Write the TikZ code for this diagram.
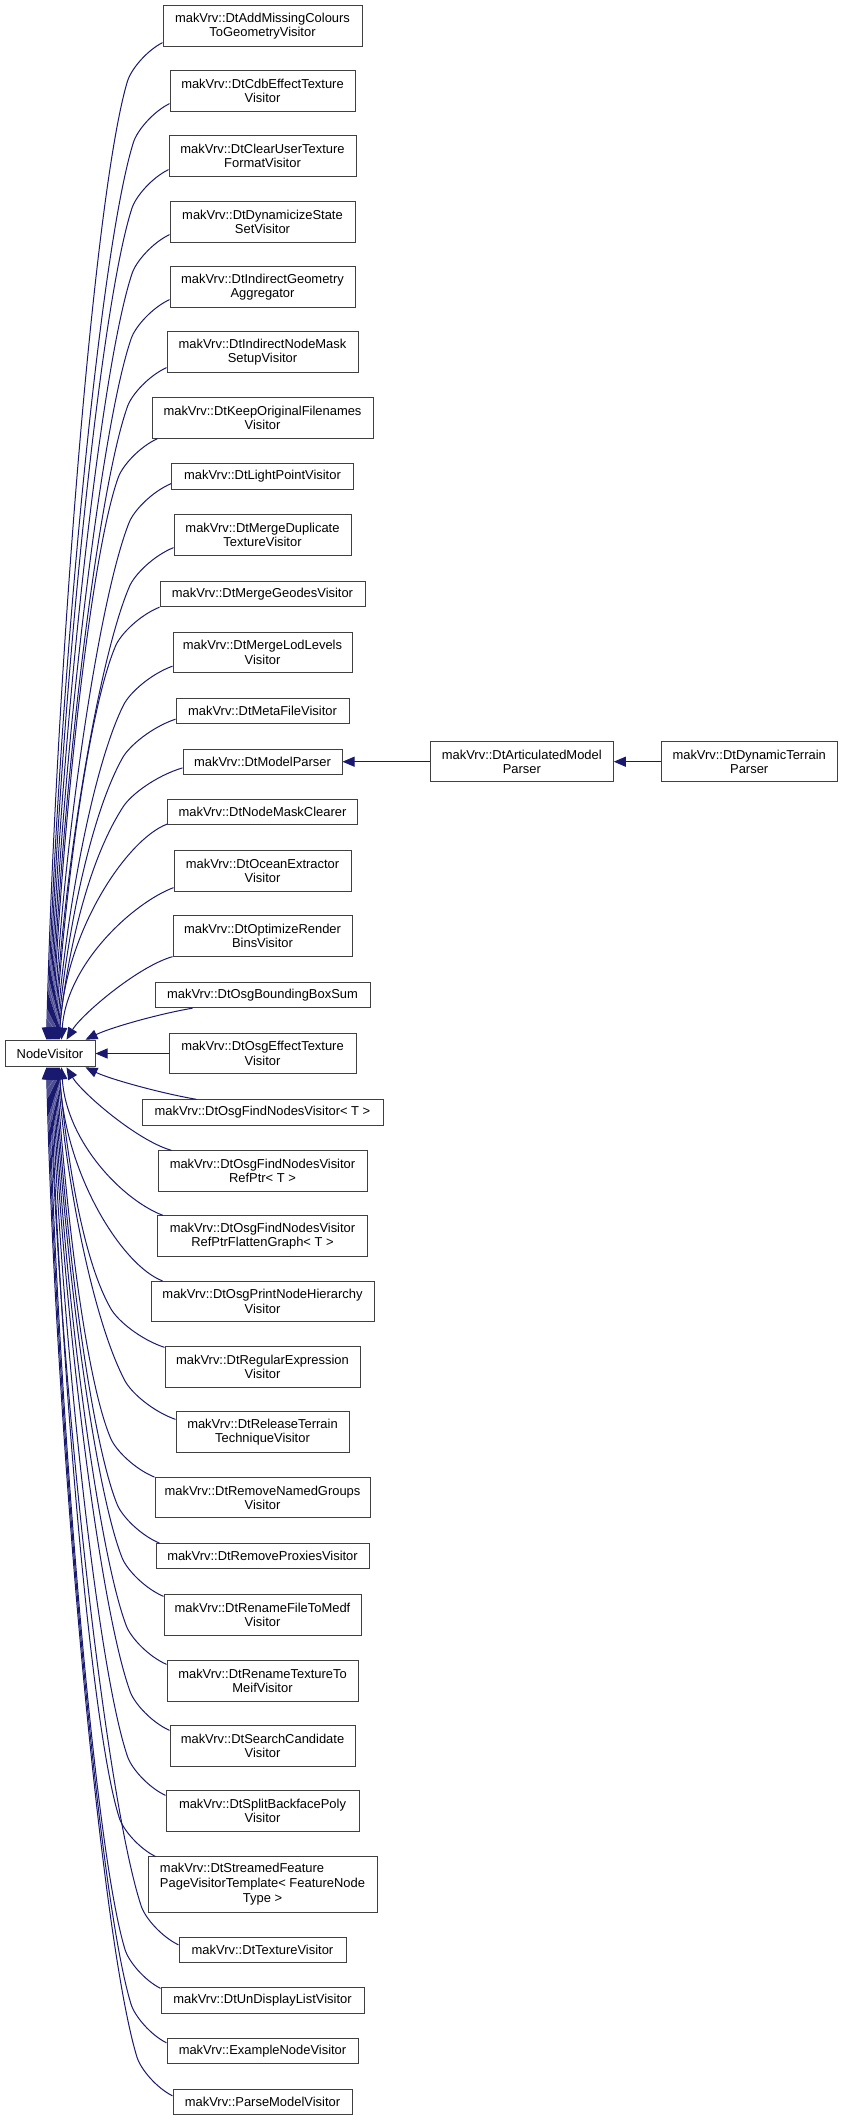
\documentclass[tikz,border=0pt]{standalone}
\usepackage{fontspec}
\setmainfont{Liberation Sans}
\usetikzlibrary{arrows.meta,calc}
\definecolor{edgec}{HTML}{191970}
\definecolor{boxc}{HTML}{404040}
\tikzset{
  cls/.style={draw=boxc, line width=0.75pt, fill=white, inner sep=0pt, align=center,
    font=\fontsize{9.7pt}{11pt}\selectfont, text=black},
  one/.style={minimum height=19pt},
  two/.style={minimum height=30.2pt},
  three/.style={minimum height=41.3pt},
  bw/.style={minimum width={#1*0.75pt}},
  edge/.style={draw=edgec, line width=0.75pt, -{Triangle[length=9pt,width=7.5pt]}},
}
\newcommand\farup[3]{%
\draw[edge] let \p1=($(#1.south west)+(#2)$), \p2=($(nv.north west)+(#3,0)$),
 \n1={(\x1-\x2)/(\y1-\y2)}, \n2={-(26.8+71*\n1)*0.75}, \n3={0.18+1.035*\n1},
 \p3=($(\p1)+({\n2*1pt},-29pt)$), \n4={\y3-\y2}, \n5={(0.08+0.35*\n1)*\n4}
 in (\p1) .. controls +({0.45*\n2*1pt},-6pt) and +({9*\n3*1pt},9pt) .. (\p3)
 .. controls +({-\n3*\n5*1pt},{-\n5*1pt}) and +(6pt,{0.35*\n4*1pt}) .. (\p2);}
\newcommand\fardown[3]{%
\draw[edge] let \p1=($(#1.north west)+(#2)$), \p2=($(nv.south west)+(#3,0)$),
 \n1={(\x1-\x2)/(\y2-\y1)}, \n2={-(26.8+71*\n1)*0.75}, \n3={0.18+1.035*\n1},
 \p3=($(\p1)+({\n2*1pt},29pt)$), \n4={\y2-\y3}, \n5={(0.08+0.35*\n1)*\n4}
 in (\p1) .. controls +({0.45*\n2*1pt},6pt) and +({9*\n3*1pt},-9pt) .. (\p3)
 .. controls +({-\n3*\n5*1pt},{\n5*1pt}) and +(6pt,{-0.35*\n4*1pt}) .. (\p2);}
\begin{document}
\begin{tikzpicture}[x=0.75pt,y=-0.75pt]
\useasboundingbox (0,0) rectangle (843,2121);
\node[cls,minimum width=67.5pt,minimum height=20pt] (nv) at (50,1053.5) {NodeVisitor};
\node[cls,two,bw=199] (c1) at (262.5,26) {makVrv::DtAddMissingColours\\ToGeometryVisitor};
\node[cls,two,bw=185] (c2) at (262.5,91) {makVrv::DtCdbEffectTexture\\Visitor};
\node[cls,two,bw=187] (c3) at (262.5,156) {makVrv::DtClearUserTexture\\FormatVisitor};
\node[cls,two,bw=185] (c4) at (262.5,222) {makVrv::DtDynamicizeState\\SetVisitor};
\node[cls,two,bw=185] (c5) at (262.5,287) {makVrv::DtIndirectGeometry\\Aggregator};
\node[cls,two,bw=191] (c6) at (262.5,352) {makVrv::DtIndirectNodeMask\\SetupVisitor};
\node[cls,two,bw=221] (c7) at (262.5,418) {makVrv::DtKeepOriginalFilenames\\Visitor};
\node[cls,one,bw=182] (c8) at (262.5,476.5) {makVrv::DtLightPointVisitor};
\node[cls,two,bw=177] (c9) at (262.5,535) {makVrv::DtMergeDuplicate\\TextureVisitor};
\node[cls,one,bw=205] (c10) at (262.5,594) {makVrv::DtMergeGeodesVisitor};
\node[cls,two,bw=179] (c11) at (262.5,652.5) {makVrv::DtMergeLodLevels\\Visitor};
\node[cls,one,bw=173] (c12) at (262.5,711) {makVrv::DtMetaFileVisitor};
\node[cls,one,bw=159] (c13) at (262.5,761.7) {makVrv::DtModelParser};
\node[cls,one,bw=190] (c14) at (262.5,812) {makVrv::DtNodeMaskClearer};
\node[cls,two,bw=177] (c15) at (262.5,871) {makVrv::DtOceanExtractor\\Visitor};
\node[cls,two,bw=179] (c16) at (262.5,936) {makVrv::DtOptimizeRender\\BinsVisitor};
\node[cls,one,bw=215] (c17) at (262.5,995) {makVrv::DtOsgBoundingBoxSum};
\node[cls,two,bw=187] (c18) at (262.5,1053.5) {makVrv::DtOsgEffectTexture\\Visitor};
\node[cls,one,bw=241] (c19) at (262.5,1112.5) {makVrv::DtOsgFindNodesVisitor< T >};
\node[cls,two,bw=209] (c20) at (262.5,1171) {makVrv::DtOsgFindNodesVisitor\\RefPtr< T >};
\node[cls,two,bw=210] (c21) at (262.5,1236) {makVrv::DtOsgFindNodesVisitor\\RefPtrFlattenGraph< T >};
\node[cls,two,bw=223] (c22) at (262.5,1301.5) {makVrv::DtOsgPrintNodeHierarchy\\Visitor};
\node[cls,two,bw=195] (c23) at (262.5,1367) {makVrv::DtRegularExpression\\Visitor};
\node[cls,two,bw=173] (c24) at (262.5,1432) {makVrv::DtReleaseTerrain\\TechniqueVisitor};
\node[cls,two,bw=215] (c25) at (262.5,1497.7) {makVrv::DtRemoveNamedGroups\\Visitor};
\node[cls,one,bw=213] (c26) at (262.5,1556.3) {makVrv::DtRemoveProxiesVisitor};
\node[cls,two,bw=197] (c27) at (262.5,1615) {makVrv::DtRenameFileToMedf\\Visitor};
\node[cls,two,bw=191] (c28) at (262.5,1681) {makVrv::DtRenameTextureTo\\MeifVisitor};
\node[cls,two,bw=185] (c29) at (262.5,1746) {makVrv::DtSearchCandidate\\Visitor};
\node[cls,two,bw=193] (c30) at (262.5,1811) {makVrv::DtSplitBackfacePoly\\Visitor};
\node[cls,three,bw=229] (c31) at (262.5,1884.5) {\begin{tabular}{@{}l@{}}makVrv::DtStreamedFeature\\PageVisitorTemplate< FeatureNode\\\multicolumn{1}{@{}c@{}}{Type >}\end{tabular}};
\node[cls,one,bw=167] (c32) at (262.5,1950) {makVrv::DtTextureVisitor};
\node[cls,one,bw=203] (c33) at (262.5,2000.5) {makVrv::DtUnDisplayListVisitor};
\node[cls,one,bw=191] (c34) at (262.5,2051) {makVrv::ExampleNodeVisitor};
\node[cls,one,bw=179] (c35) at (262.5,2102) {makVrv::ParseModelVisitor};
\node[cls,two,bw=183] (ar) at (521.8,761.7) {makVrv::DtArticulatedModel\\Parser};
\node[cls,two,bw=176] (dt) at (749.2,761.7) {makVrv::DtDynamicTerrain\\Parser};
% upper far edges
\farup{c1}{0,-4}{42}
\farup{c2}{0,-8}{43}
\farup{c3}{0,-7}{44}
\farup{c4}{0,-8}{45}
\farup{c5}{0,-8}{46}
\farup{c6}{0,-5}{47}
\farup{c7}{6,0}{48}
\farup{c8}{0,-6}{49}
\farup{c9}{0,-8}{50}
\farup{c10}{0,0}{51}
\farup{c11}{0,-7}{52}
\farup{c12}{0,-5}{53}
\farup{c13}{0,-7}{54}
% near edges
\draw[edge] ($(c14.south west)+(0,-1)$) .. controls +(-40,15) and +(5,-108) .. ($(nv.north west)+(55,0)$);
\draw[edge] ($(c15.south west)+(0,-4)$) .. controls +(-40,15) and +(5,-76) .. ($(nv.north west)+(57,0)$);
\draw[edge] (c16.south west) .. controls +(-35,10) and +(15,-25) .. ($(nv.north west)+(62,0)$);
\draw[edge] ($(c17.south west)+(38,0)$) .. controls +(-35,6) and +(25,-12) .. ($(nv.north west)+(81,0)$);
\draw[edge] (c18.west) -- (nv.east);
\draw[edge] ($(c19.north west)+(55,0)$) .. controls +(-35,-6) and +(25,12) .. ($(nv.south west)+(81,0)$);
\draw[edge] ($(c20.north west)+(14,0)$) .. controls +(-35,-10) and +(15,25) .. ($(nv.south west)+(62,0)$);
\draw[edge] ($(c21.north west)+(6,0)$) .. controls +(-40,-15) and +(5,75) .. ($(nv.south west)+(57,0)$);
\draw[edge] ($(c22.north west)+(12,0)$) .. controls +(-40,-15) and +(5,107) .. ($(nv.south west)+(55,0)$);
% lower far edges
\fardown{c23}{0,1}{54}
\fardown{c24}{0,8}{53}
\fardown{c25}{0,0}{52}
\fardown{c26}{4,0}{51}
\fardown{c27}{0,2}{50}
\fardown{c28}{0,4}{49}
\fardown{c29}{0,5}{48}
\fardown{c30}{0,5}{47}
\fardown{c31}{8,0}{46}
\fardown{c32}{0,8}{45}
\fardown{c33}{0,1}{44}
\fardown{c34}{0,5}{43}
\fardown{c35}{0,7}{42}
% right chain
\draw[edge] (ar.west) -- (c13.east);
\draw[edge] (dt.west) -- (ar.east);
\end{tikzpicture}
\end{document}
